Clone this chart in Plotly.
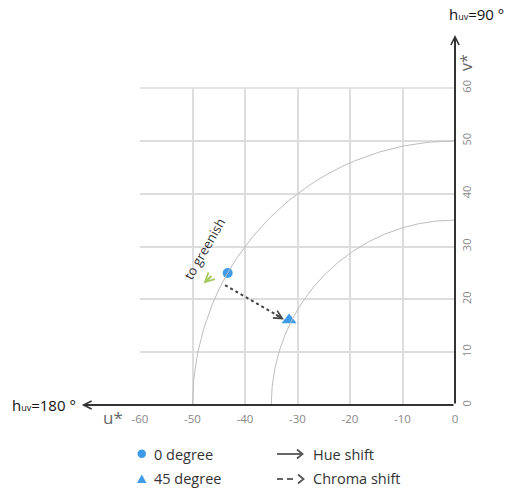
import plotly.graph_objects as go

# ---- data ----
x_ticks = [-60, -50, -40, -30, -20, -10, 0]
x_tick_labels = ["-60", "-50", "-40", "-30", "-20", "-10", "0"]
y_ticks = [0, 10, 20, 30, 40, 50, 60]
y_tick_labels = ["0", "10", "20", "30", "40", "50", "60"]
circle_radii = [50, 35]

pt0_u = [-43.3]
pt0_v = [25.0]
pt45_u = [-31.6]
pt45_v = [16.1]

chroma_shift_u = [-43.8, -32.9]
chroma_shift_v = [22.7, 16.4]

green_arrow_u = [-46.1, -47.9]   # tail, tip
green_arrow_v = [24.7, 23.0]

FONT = "Open Sans"
BLUE = "#3d9be9"
GREEN = "#a6c85c"
GRID = "#dddddd"

fig = go.Figure()

# reference circles (clipped to the quadrant by the axes)
for r in circle_radii:
    fig.add_shape(type="circle", xref="x", yref="y", x0=-r, y0=-r, x1=r, y1=r,
                  line=dict(color="#bdbdbd", width=1), layer="above")

# top grid line (edge of the range)
fig.add_shape(type="line", xref="paper", yref="paper", x0=0, x1=1, y0=1, y1=1,
              line=dict(color=GRID, width=1.5), layer="below")

# chroma shift dotted line
fig.add_trace(go.Scatter(x=chroma_shift_u, y=chroma_shift_v, mode="lines",
                         line=dict(color="#444444", width=2, dash="dot"),
                         showlegend=False, hoverinfo="skip"))

fig.add_trace(go.Scatter(x=pt0_u, y=pt0_v, mode="markers", name="0 degree",
                         marker=dict(symbol="circle", size=10, color=BLUE),
                         showlegend=False))
fig.add_trace(go.Scatter(x=pt45_u, y=pt45_v, mode="markers", name="45 degree",
                         marker=dict(symbol="triangle-up", size=13, color=BLUE),
                         showlegend=False))

ann = []
# chroma arrow head
ann.append(dict(x=chroma_shift_u[1] + 0.3, y=chroma_shift_v[1] - 0.2, xref="x", yref="y",
                ax=chroma_shift_u[1] - 1.5, ay=chroma_shift_v[1] + 0.85, axref="x", ayref="y",
                showarrow=True, arrowhead=5, arrowwidth=1.5, arrowsize=1.1,
                arrowcolor="#444444", text=""))
# green arrow
ann.append(dict(x=green_arrow_u[1], y=green_arrow_v[1], xref="x", yref="y",
                ax=green_arrow_u[0], ay=green_arrow_v[0], axref="x", ayref="y",
                showarrow=True, arrowhead=5, arrowwidth=2, arrowsize=0.9,
                arrowcolor=GREEN, text=""))
ann.append(dict(x=-47.8, y=29.6, xref="x", yref="y", text="to greenish", textangle=-60,
                showarrow=False, font=dict(family=FONT, size=13, color="#333333")))

# axis lines with arrows
ann.append(dict(x=-0.185, y=0, xref="x domain", yref="y domain",
                ax=1.0, ay=0, axref="x domain", ayref="y domain",
                showarrow=True, arrowhead=5, arrowwidth=2, arrowsize=0.8,
                arrowcolor="#333333", text=""))
ann.append(dict(x=1.0, y=1.167, xref="x domain", yref="y domain",
                ax=1.0, ay=0, axref="x domain", ayref="y domain",
                showarrow=True, arrowhead=5, arrowwidth=2, arrowsize=0.8,
                arrowcolor="#333333", text=""))

SUB = "<span style='font-size:9px'>uv</span>"
ann.append(dict(x=-0.197, y=0, xref="paper", yref="paper", xanchor="right", yanchor="middle",
                text="h" + SUB + "=180 °", showarrow=False,
                font=dict(family=FONT, size=15, color="#111111")))
ann.append(dict(x=0.975, y=1.233, xref="paper", yref="paper", xanchor="left", yanchor="middle",
                text="h" + SUB + "=90 °", showarrow=False,
                font=dict(family=FONT, size=15, color="#111111")))
ann.append(dict(x=-0.086, y=-0.040, xref="paper", yref="paper", xanchor="center", yanchor="middle",
                text="u*", showarrow=False, font=dict(family=FONT, size=17, color="#666666")))
ann.append(dict(x=1.035, y=1.079, xref="paper", yref="paper", xanchor="center", yanchor="middle",
                text="v*", textangle=-90, showarrow=False,
                font=dict(family=FONT, size=16, color="#666666")))

# ---- custom legend ----
def px(xp):
    return (xp - 140) / 315.0

def py(yp):
    return (405 - yp) / 317.0

fig.add_shape(type="circle", xref="paper", yref="paper",
              x0=px(137.5), x1=px(146), y0=py(458), y1=py(449.5), fillcolor=BLUE, line=dict(width=0))
fig.add_shape(type="path", xref="paper", yref="paper",
              path=f"M {px(137)} {py(483)} L {px(146.5)} {py(483)} L {px(141.8)} {py(474.5)} Z",
              fillcolor=BLUE, line=dict(width=0))
ann.append(dict(x=px(152), y=py(454), xref="paper", yref="paper", xanchor="left", yanchor="middle",
                text="0 degree", showarrow=False, font=dict(family=FONT, size=14.5, color="#333333")))
ann.append(dict(x=px(152), y=py(479), xref="paper", yref="paper", xanchor="left", yanchor="middle",
                text="45 degree", showarrow=False, font=dict(family=FONT, size=14.5, color="#333333")))
# hue shift legend arrow (shapes)
LEG = "#555555"
fig.add_shape(type="line", xref="paper", yref="paper", x0=px(277), x1=px(302), y0=py(454), y1=py(454),
              line=dict(color=LEG, width=1.8))
fig.add_shape(type="path", xref="paper", yref="paper",
              path=f"M {px(297)} {py(449.5)} L {px(302.5)} {py(454)} L {px(297)} {py(458.5)}",
              line=dict(color=LEG, width=1.8))
# chroma shift legend arrow (dashed)
fig.add_shape(type="line", xref="paper", yref="paper", x0=px(277), x1=px(283), y0=py(479), y1=py(479),
              line=dict(color=LEG, width=1.8))
fig.add_shape(type="line", xref="paper", yref="paper", x0=px(287), x1=px(293), y0=py(479), y1=py(479),
              line=dict(color=LEG, width=1.8))
fig.add_shape(type="path", xref="paper", yref="paper",
              path=f"M {px(298)} {py(474.5)} L {px(303.5)} {py(479)} L {px(298)} {py(483.5)}",
              line=dict(color=LEG, width=1.8))
ann.append(dict(x=px(311), y=py(454), xref="paper", yref="paper", xanchor="left", yanchor="middle",
                text="Hue shift", showarrow=False, font=dict(family=FONT, size=14.5, color="#333333")))
ann.append(dict(x=px(311), y=py(479), xref="paper", yref="paper", xanchor="left", yanchor="middle",
                text="Chroma shift", showarrow=False, font=dict(family=FONT, size=14.5, color="#333333")))

fig.update_layout(
    width=510, height=491,
    margin=dict(l=140, r=55, t=88, b=86),
    paper_bgcolor="white", plot_bgcolor="white",
    showlegend=False,
    annotations=ann,
    font=dict(family=FONT),
)
fig.update_xaxes(range=[-60, 0], tickvals=x_ticks, ticktext=x_tick_labels,
                 ticklabelstandoff=5,
                 showgrid=True, gridcolor=GRID, gridwidth=1.5,
                 zeroline=False, showline=False, ticks="",
                 tickfont=dict(family=FONT, size=11.5, color="#888888"))
fig.update_yaxes(range=[0, 60], tickvals=y_ticks, ticktext=y_tick_labels, side="right",
                 tickangle=-90, ticklabelstandoff=4,
                 showgrid=True, gridcolor=GRID, gridwidth=1.5,
                 zeroline=False, showline=False, ticks="",
                 tickfont=dict(family=FONT, size=11, color="#888888"))

fig.write_html("out.html")
